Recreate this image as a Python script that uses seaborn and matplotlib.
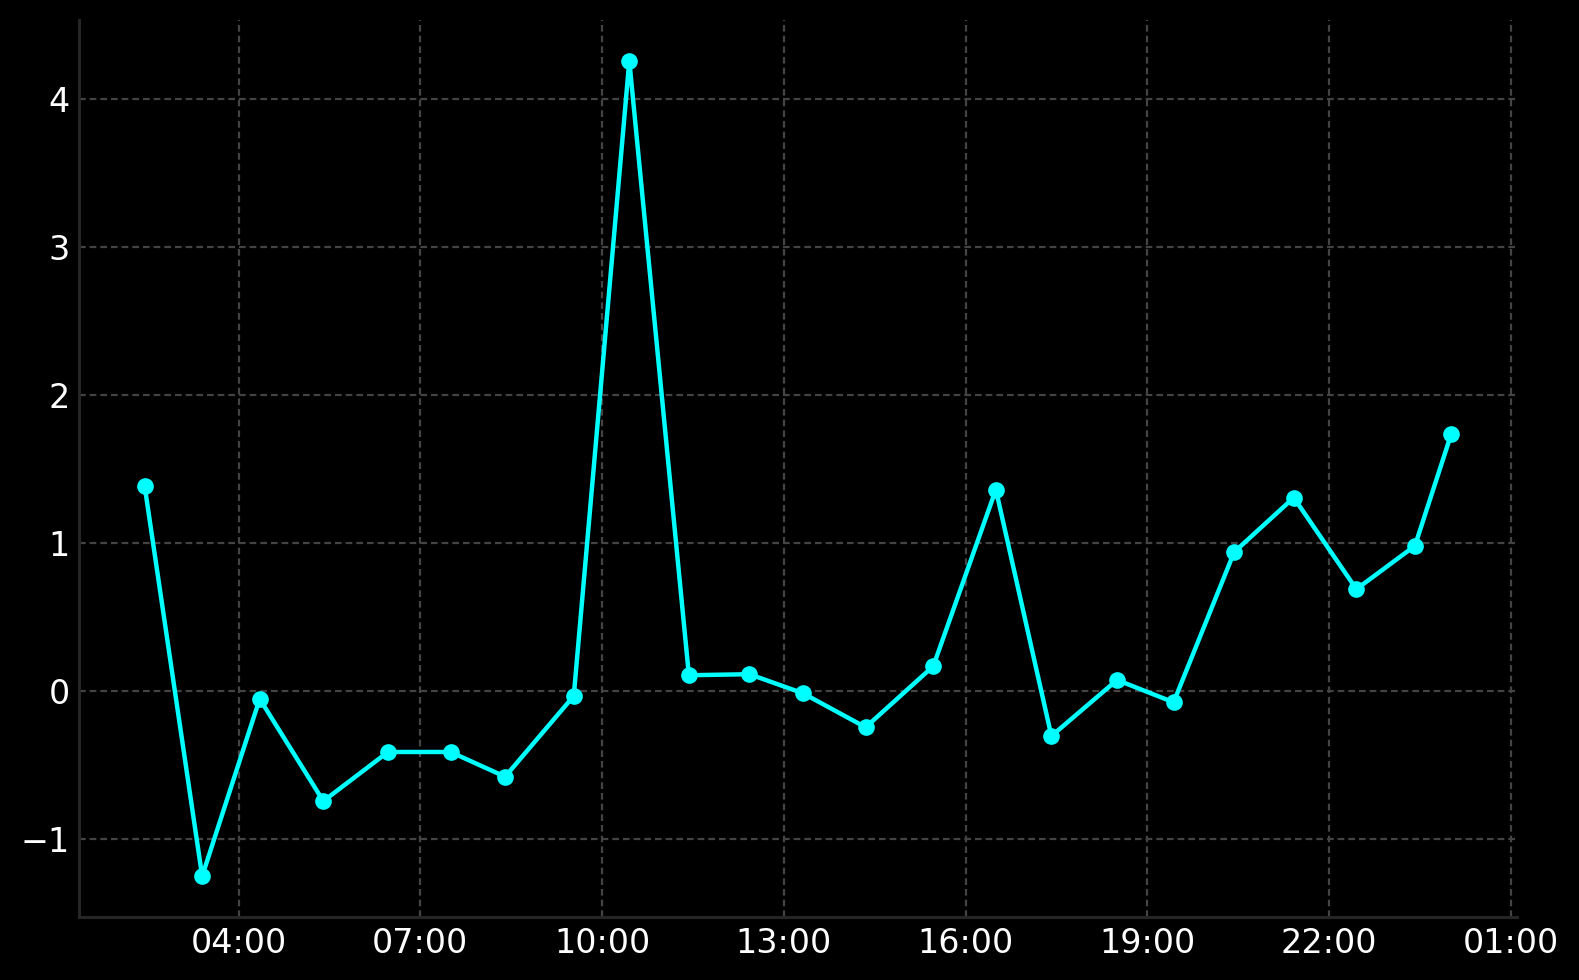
import matplotlib
matplotlib.use("Agg")
import matplotlib.pyplot as plt
import matplotlib.dates as mdates
import pandas as pd
import seaborn as sns

# timestamps (roughly hourly, one day)
times = [
    '2024-01-01 02:27', '2024-01-01 03:24', '2024-01-01 04:21', '2024-01-01 05:24',
    '2024-01-01 06:28', '2024-01-01 07:30', '2024-01-01 08:24', '2024-01-01 09:32',
    '2024-01-01 10:27', '2024-01-01 11:26', '2024-01-01 12:26', '2024-01-01 13:19',
    '2024-01-01 14:21', '2024-01-01 15:28', '2024-01-01 16:30', '2024-01-01 17:25',
    '2024-01-01 18:30', '2024-01-01 19:26', '2024-01-01 20:26', '2024-01-01 21:25',
    '2024-01-01 22:27', '2024-01-01 23:25', '2024-01-02 00:01',
]
values = [
    1.386, -1.255, -0.056, -0.747, -0.415, -0.415, -0.582, -0.036,
    4.259, 0.104, 0.111, -0.018, -0.248, 0.165, 1.359, -0.307,
    0.072, -0.079, 0.937, 1.305, 0.686, 0.979, 1.736,
]

df = pd.DataFrame({'time': pd.to_datetime(times), 'value': values})

sns.set_style('dark')
plt.rcParams['font.family'] = ['DejaVu Sans']

fig, ax = plt.subplots(figsize=(7.895, 4.9), dpi=200)
fig.patch.set_facecolor('black')
ax.set_facecolor('black')

sns.lineplot(
    data=df, x='time', y='value', ax=ax,
    color='cyan', marker='o', markersize=6,
    markeredgecolor='cyan', markeredgewidth=0, linewidth=1.6,
)

ax.xaxis.set_major_locator(mdates.HourLocator(byhour=range(1, 24, 3)))
ax.xaxis.set_major_formatter(mdates.DateFormatter('%H:%M'))
ax.margins(x=0.05, y=0.05)

ax.set_axisbelow(True)
ax.grid(True, color='#444444', linewidth=0.8, dashes=(3, 1.8))

ax.set_xlabel('')
ax.set_ylabel('')
ax.tick_params(axis='both', colors='white', labelsize=12, length=0, pad=3.5)

for side in ['top', 'right']:
    ax.spines[side].set_visible(False)
for side in ['left', 'bottom']:
    ax.spines[side].set_visible(True)
    ax.spines[side].set_color('#262626')
    ax.spines[side].set_linewidth(1.1)

fig.subplots_adjust(left=0.0502, right=0.9605, top=0.9796, bottom=0.0643)
fig.savefig('out.png', dpi=200, facecolor='black')
